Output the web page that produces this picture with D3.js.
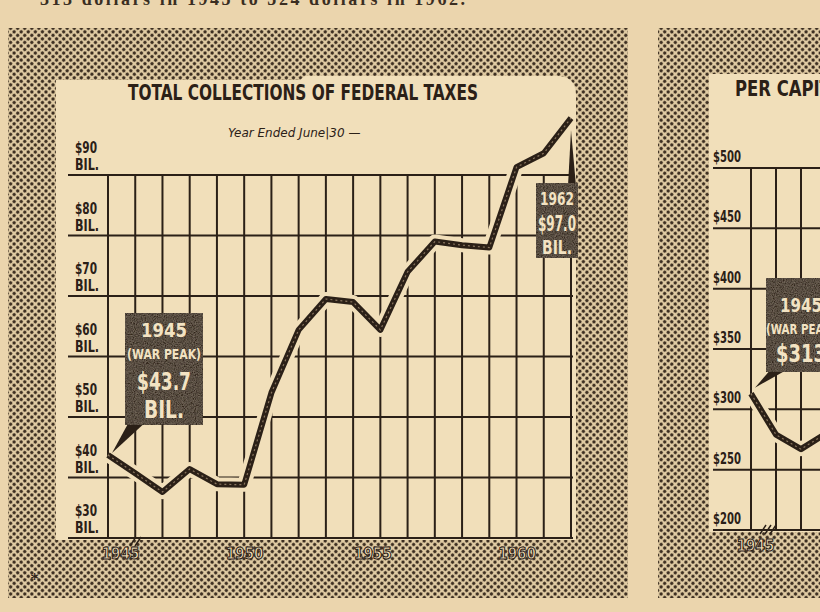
<!DOCTYPE html>
<html>
<head>
<meta charset="utf-8">
<script src="https://cdn.jsdelivr.net/npm/d3@7"></script>
<style>
  html, body { margin: 0; padding: 0; background: #ebd5ad; }
  svg { display: block; }
  .cond { font-family: "Liberation Sans Narrow", "DejaVu Sans Condensed", "Roboto Condensed", sans-serif; font-weight: bold; }
</style>
</head>
<body>
<div id="chart"></div>
<script>
// 数据：联邦税收总额（十亿美元），按财年
const years = [1945, 1946, 1947, 1948, 1949, 1950, 1951, 1952, 1953, 1954, 1955, 1956, 1957, 1958, 1959, 1960, 1961, 1962]
const taxBillions = [43.7, 40.7, 37.6, 41.4, 38.9, 38.8, 54.0, 64.4, 69.5, 69.0, 64.4, 74.0, 79.0, 78.4, 78.0, 91.3, 93.6, 99.4]
const taxTicks = [30, 40, 50, 60, 70, 80, 90]
const yearLabels = [1945, 1950, 1955, 1960]

// 右边：人均税收（只露出一部分）
const capitaYears = [1945, 1946, 1947, 1948]
const capitaDollars = [313, 279, 267, 280]
const capitaTicks = [200, 250, 300, 350, 400, 450, 500]

const ink = '#2b2017'
const paper = '#ebd5ad'
const cream = '#f1dfba'

const width = 820
const height = 612
const svg = d3.select('#chart').append('svg')
    .attr('width', width)
    .attr('height', height)

// 网点（halftone）底纹
const defs = svg.append('defs')
const pat = defs.append('pattern')
    .attr('id', 'dots')
    .attr('patternUnits', 'userSpaceOnUse')
    .attr('width', 5)
    .attr('height', 5)
    .attr('patternTransform', 'rotate(45)')
pat.append('rect').attr('width', 5).attr('height', 5).attr('fill', '#e0cba3')
pat.append('circle').attr('cx', 2.5).attr('cy', 2.5).attr('r', 1.65).attr('fill', '#3a2c1f')

const noise = defs.append('filter').attr('id', 'grain')
noise.append('feTurbulence').attr('type', 'fractalNoise').attr('baseFrequency', 0.9).attr('numOctaves', 2).attr('result', 'n')
noise.append('feColorMatrix').attr('in', 'n').attr('type', 'matrix')
    .attr('values', '0 0 0 0 0.2  0 0 0 0 0.16  0 0 0 0 0.12  0 0 0 -1.4 1.1')
    .attr('result', 'a')
noise.append('feComposite').attr('in', 'a').attr('in2', 'SourceGraphic').attr('operator', 'in').attr('result', 'b')
noise.append('feMerge').selectAll('feMergeNode').data(['SourceGraphic', 'b']).join('feMergeNode').attr('in', d => d)

svg.append('rect').attr('width', width).attr('height', height).attr('fill', paper)

// 上方被裁掉的正文（原图只露出下半截）
svg.append('text')
    .attr('x', 40).attr('y', 5)
    .attr('font-family', 'Liberation Serif, serif')
    .attr('font-weight', 'bold')
    .attr('font-size', 18)
    .attr('fill', '#3a2e22')
    .attr('textLength', 425)
    .text('313 dollars in 1945 to 524 dollars in 1962.')

// ========== 左图 ==========
svg.append('rect').attr('x', 8).attr('y', 28).attr('width', 620).attr('height', 570).attr('fill', 'url(#dots)')
svg.append('path')
    .attr('d', 'M56,80 L300,80 L305,76 L560,76 Q576,78 576,95 L576,540 L56,540 Z')
    .attr('fill', cream)

const x = d3.scaleLinear().domain([1945, 1962]).range([108, 571])
const y = d3.scaleLinear().domain([30, 90]).range([538, 175])

const grid = svg.append('g').attr('stroke', ink).attr('stroke-width', 2)
grid.selectAll('line.h')
    .data(taxTicks)
    .join('line')
    .attr('class', 'h')
    .attr('x1', 68).attr('x2', 573)
    .attr('y1', d => y(d)).attr('y2', d => y(d))
grid.selectAll('line.v')
    .data(years)
    .join('line')
    .attr('class', 'v')
    .attr('x1', d => x(d)).attr('x2', d => x(d))
    .attr('y1', y(90)).attr('y2', y(30))

// 纵轴标签
const yl = svg.append('g').attr('class', 'cond').attr('fill', ink).attr('font-size', 15)
yl.selectAll('text.a')
    .data(taxTicks)
    .join('text')
    .attr('x', 75).attr('y', d => y(d) - 22)
    .attr('textLength', 22)
    .attr('lengthAdjust', 'spacingAndGlyphs')
    .text(d => '$' + d)
yl.selectAll('text.b')
    .data(taxTicks)
    .join('text')
    .attr('x', 75).attr('y', d => y(d) - 5)
    .attr('textLength', 24)
    .attr('lengthAdjust', 'spacingAndGlyphs')
    .text('BIL.')

// 标题
svg.append('text')
    .attr('class', 'cond')
    .attr('x', 128).attr('y', 100)
    .attr('font-size', 21)
    .attr('fill', ink)
    .attr('textLength', 350)
    .attr('lengthAdjust', 'spacingAndGlyphs')
    .text('TOTAL COLLECTIONS OF FEDERAL TAXES')
svg.append('text')
    .attr('x', 228).attr('y', 137)
    .attr('font-family', 'DejaVu Sans, sans-serif')
    .attr('font-style', 'italic')
    .attr('font-size', 12)
    .attr('fill', ink)
    .text('Year Ended June|30 —')

// 折线（先画一道底色描边把网格断开）
const line = d3.line().x((d, i) => x(years[i])).y(d => y(d))
svg.append('path').datum(taxBillions)
    .attr('d', line).attr('fill', 'none')
    .attr('stroke', cream).attr('stroke-width', 14).attr('stroke-linejoin', 'round')
svg.append('path').datum(taxBillions)
    .attr('d', line).attr('fill', 'none')
    .attr('stroke', ink).attr('stroke-width', 6).attr('stroke-linejoin', 'round')
svg.append('path').datum(taxBillions)
    .attr('d', line).attr('fill', 'none')
    .attr('stroke', '#8a7660').attr('stroke-width', 1.2).attr('stroke-dasharray', '2 3')

// 年份（压在网点上）
const xAxis = svg.append('g')
    .attr('transform', 'translate(0,540)')
    .call(d3.axisBottom(x).tickValues(yearLabels).tickSize(0).tickPadding(8).tickFormat(d3.format('d')))
xAxis.select('.domain').remove()
xAxis.selectAll('text')
    .attr('class', 'cond')
    .attr('font-size', 15)
    .attr('font-weight', 'normal')
    .attr('fill', '#f0dcb4')
    .attr('stroke', ink)
    .attr('stroke-width', 1)
    .attr('dx', (d, i) => i === 0 ? 12 : i === 2 ? -8 : 0)

// 断轴记号
svg.append('path')
    .attr('d', `M${x(1945) + 22},546 l6,-9 M${x(1945) + 27},546 l6,-9`)
    .attr('stroke', ink).attr('stroke-width', 1.5).attr('fill', 'none')

svg.append('text').attr('x', 30).attr('y', 586).attr('font-size', 18).attr('fill', ink).text('*')

// 标注框
function callout(g, box, lines, tip) {
    g.append('path')
        .attr('d', `M${tip[0]},${tip[1]} L${tip[2]},${tip[3]} L${tip[4]},${tip[5]} Z`)
        .attr('fill', ink)
    g.append('rect')
        .attr('x', box[0]).attr('y', box[1]).attr('width', box[2]).attr('height', box[3])
        .attr('fill', '#33271c').attr('filter', 'url(#grain)')
    g.selectAll('text')
        .data(lines)
        .join('text')
        .attr('class', 'cond')
        .attr('x', box[0] + box[2] / 2)
        .attr('y', d => d.y)
        .attr('text-anchor', 'middle')
        .attr('font-size', d => d.size)
        .attr('fill', '#f3e3c3')
        .attr('textLength', d => d.w)
        .attr('lengthAdjust', 'spacingAndGlyphs')
        .text(d => d.t)
}

callout(svg.append('g'), [125, 313, 78, 112], [
    {t: '1945', y: 337, size: 19, w: 46},
    {t: '(WAR PEAK)', y: 359, size: 14, w: 74},
    {t: '$43.7', y: 390, size: 24, w: 54},
    {t: 'BIL.', y: 418, size: 24, w: 40}
], [x(1945) + 4, y(43.7) - 2, 130, 420, 148, 420])

callout(svg.append('g'), [536, 183, 42, 75], [
    {t: '1962', y: 205, size: 18, w: 34},
    {t: '$97.0', y: 231, size: 21, w: 38},
    {t: 'BIL.', y: 254, size: 20, w: 30}
], [x(1962), y(99.4) + 12, 568, 186, 576, 186])

// ========== 右图（被裁掉一半） ==========
svg.append('rect').attr('x', 658).attr('y', 28).attr('width', 200).attr('height', 570).attr('fill', 'url(#dots)')
svg.append('rect').attr('x', 709).attr('y', 74).attr('width', 150).attr('height', 458).attr('fill', cream)

const x2 = d3.scaleLinear().domain([1945, 1946]).range([751, 776])
const y2 = d3.scaleLinear().domain([200, 500]).range([530, 168])

const grid2 = svg.append('g').attr('stroke', ink).attr('stroke-width', 2)
grid2.selectAll('line.h')
    .data(capitaTicks)
    .join('line')
    .attr('class', 'h')
    .attr('x1', 713).attr('x2', 860)
    .attr('y1', d => y2(d)).attr('y2', d => y2(d))
grid2.selectAll('line.v')
    .data(years)
    .join('line')
    .attr('class', 'v')
    .attr('x1', d => x2(d)).attr('x2', d => x2(d))
    .attr('y1', y2(500)).attr('y2', y2(200))

svg.append('g').attr('class', 'cond').attr('fill', ink).attr('font-size', 15)
    .selectAll('text')
    .data(capitaTicks)
    .join('text')
    .attr('x', 713).attr('y', d => y2(d) - 6)
    .attr('textLength', 28)
    .attr('lengthAdjust', 'spacingAndGlyphs')
    .text(d => '$' + d)

svg.append('text')
    .attr('class', 'cond')
    .attr('x', 735).attr('y', 96)
    .attr('font-size', 21)
    .attr('fill', ink)
    .attr('textLength', 260)
    .attr('lengthAdjust', 'spacingAndGlyphs')
    .text('PER CAPITA FEDERAL TAXES')

const line2 = d3.line().x((d, i) => x2(capitaYears[i])).y(d => y2(d))
svg.append('path').datum(capitaDollars)
    .attr('d', line2).attr('fill', 'none')
    .attr('stroke', cream).attr('stroke-width', 14).attr('stroke-linejoin', 'round')
svg.append('path').datum(capitaDollars)
    .attr('d', line2).attr('fill', 'none')
    .attr('stroke', ink).attr('stroke-width', 6).attr('stroke-linejoin', 'round')
svg.append('path').datum(capitaDollars)
    .attr('d', line2).attr('fill', 'none')
    .attr('stroke', '#8a7660').attr('stroke-width', 1.2).attr('stroke-dasharray', '2 3')

const xAxis2 = svg.append('g')
    .attr('transform', 'translate(0,532)')
    .call(d3.axisBottom(x2).tickValues([1945]).tickSize(0).tickPadding(8).tickFormat(d3.format('d')))
xAxis2.select('.domain').remove()
xAxis2.selectAll('text')
    .attr('class', 'cond')
    .attr('font-size', 15)
    .attr('font-weight', 'normal')
    .attr('fill', '#f0dcb4')
    .attr('stroke', ink)
    .attr('stroke-width', 1)
    .attr('dx', 4)
svg.append('path')
    .attr('d', 'M760,534 l6,-9 M765,534 l6,-9 M770,534 l6,-9')
    .attr('stroke', ink).attr('stroke-width', 1.5).attr('fill', 'none')

callout(svg.append('g'), [766, 278, 70, 94], [
    {t: '1945', y: 312, size: 19, w: 42},
    {t: '(WAR PEAK)', y: 334, size: 14, w: 70},
    {t: '$313', y: 362, size: 24, w: 50}
], [x2(1945) + 4, y2(313) - 6, 772, 368, 790, 368])
</script>
</body>
</html>
